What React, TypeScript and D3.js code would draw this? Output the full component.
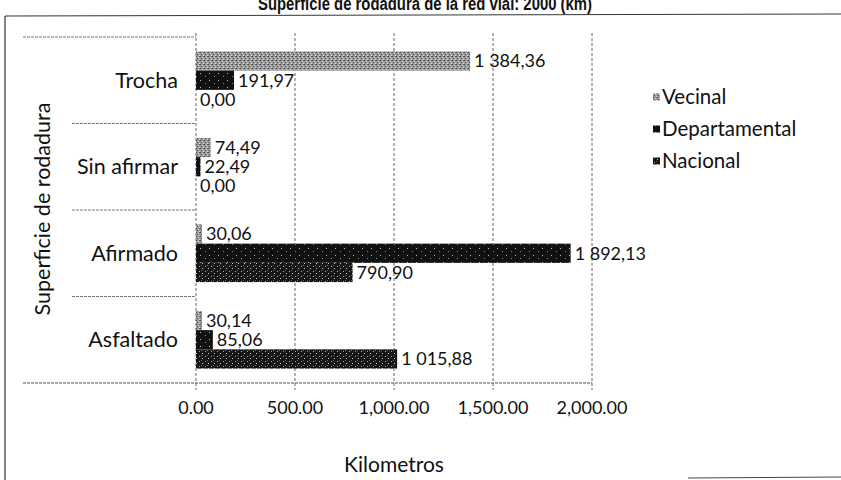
import React from "react";
import * as d3 from "d3";

const categories = ["Trocha", "Sin afirmar", "Afirmado", "Asfaltado"];
const seriesNames = ["Vecinal", "Departamental", "Nacional"];
const vecinal = [1384.36, 74.49, 30.06, 30.14];
const departamental = [191.97, 22.49, 1892.13, 85.06];
const nacional = [0.0, 0.0, 790.9, 1015.88];
const xTicks = [0, 500, 1000, 1500, 2000];
const seriesValues = [vecinal, departamental, nacional];
const fills = ["url(#pVec)", "url(#pDep)", "url(#pNac)"];

const W = 841;
const H = 480;
const FONT = "Lato, 'Open Sans', sans-serif";

function fmtLabel(v: number): string {
  const s = v.toFixed(2);
  const [i, d] = s.split(".");
  const withSep = i.replace(/\B(?=(\d{3})+(?!\d))/g, " ");
  return withSep + "," + d;
}

export default function App() {
  const x = d3.scaleLinear().domain([0, 2000]).range([196, 592]);
  const y = d3.scaleBand<string>().domain(categories).range([37, 383]).padding(0);
  const inner = d3
    .scaleBand<string>()
    .domain(seriesNames)
    .range([0, y.bandwidth()])
    .paddingInner(0)
    .paddingOuter(0.75);
  const tickFmt = d3.format(",.2f");

  return (
    <svg width={W} height={H} style={{ display: "block", position: "absolute", left: 0, top: 0 }}>
      <defs>
        <pattern id="pVec" width="4" height="4" patternUnits="userSpaceOnUse">
          <rect width="4" height="4" fill="#9a9a9a" />
          <rect x="0" y="0" width="1" height="1" fill="#444" />
          <rect x="2" y="1" width="1" height="1" fill="#d8d8d8" />
          <rect x="1" y="2" width="1" height="1" fill="#555" />
          <rect x="3" y="3" width="1" height="1" fill="#e0e0e0" />
          <rect x="3" y="0" width="1" height="1" fill="#666" />
        </pattern>
        <pattern id="pDep" width="9" height="7" patternUnits="userSpaceOnUse">
          <rect width="9" height="7" fill="#111" />
          <rect x="2" y="3" width="1" height="1" fill="#bbb" />
          <rect x="7" y="6" width="1" height="1" fill="#888" />
        </pattern>
        <pattern id="pNac" width="6" height="5" patternUnits="userSpaceOnUse">
          <rect width="6" height="5" fill="#161616" />
          <rect x="1" y="1" width="1" height="1" fill="#aaa" />
          <rect x="4" y="3" width="1" height="1" fill="#ccc" />
          <rect x="3" y="0" width="1" height="1" fill="#666" />
        </pattern>
      </defs>
      <rect width={W} height={H} fill="#fff" />

      {/* frame */}
      <line x1={5} y1={16} x2={W} y2={14} stroke="#333" strokeWidth={1} />
      <line x1={5} y1={16} x2={5} y2={H} stroke="#333" strokeWidth={1.2} />
      <line x1={688} y1={478} x2={W} y2={477} stroke="#444" strokeWidth={1} />

      {/* title (cut off at top) */}
      <text
        x={425}
        y={10}
        textAnchor="middle"
        fontFamily="'Liberation Sans', Arial, sans-serif"
        fontWeight="bold"
        fontSize={18}
        textLength={334}
        lengthAdjust="spacingAndGlyphs"
        fill="#111"
      >
        Superficie de rodadura de la red vial: 2000 (km)
      </text>

      {/* vertical gridlines */}
      {xTicks.map((t) => (
        <line key={"g" + t} x1={x(t)} x2={x(t)} y1={33} y2={390} stroke="#666" strokeWidth={1} strokeDasharray="3,2" />
      ))}

      {/* category separators */}
      <line x1={23} x2={196} y1={37} y2={37} stroke="#777" strokeDasharray="3,1" />
      {categories.slice(1).map((c) => (
        <line key={"s" + c} x1={72} x2={196} y1={y(c)!} y2={y(c)!} stroke="#777" strokeDasharray="3,1" />
      ))}
      <line x1={23} x2={592} y1={383} y2={383} stroke="#555" strokeDasharray="3,1" />

      {/* bars */}
      {categories.map((c, ci) =>
        seriesNames.map((s, si) => {
          const v = seriesValues[si][ci];
          const by = y(c)! + inner(s)!;
          return (
            <g key={c + s}>
              <rect x={x(0)} y={by} width={x(v) - x(0)} height={inner.bandwidth()} fill={fills[si]} />
              <text
                x={x(v) + 4}
                y={by + inner.bandwidth() / 2}
                dy="0.35em"
                fontFamily={FONT}
                fontSize={18}
                fill="#111"
              >
                {fmtLabel(v)}
              </text>
            </g>
          );
        })
      )}

      {/* category labels */}
      {categories.map((c) => (
        <text key={"c" + c} x={178} y={y(c)! + y.bandwidth() / 2} dy="0.35em" textAnchor="end" fontFamily={FONT} fontSize={21.5} fill="#111">
          {c}
        </text>
      ))}

      {/* x tick labels */}
      {xTicks.map((t) => (
        <text key={"t" + t} x={x(t)} y={408} dy="0.35em" textAnchor="middle" fontFamily={FONT} fontSize={18} fill="#111">
          {tickFmt(t)}
        </text>
      ))}

      {/* axis titles */}
      <text x={394} y={465} dy="0.35em" textAnchor="middle" fontFamily={FONT} fontSize={21} fill="#111">
        Kilometros
      </text>
      <text transform={`translate(42,209) rotate(-90)`} textAnchor="middle" dy="0.35em" fontFamily={FONT} fontSize={21.5} fill="#111">
        Superficie de rodadura
      </text>

      {/* legend */}
      {seriesNames.map((s, i) => (
        <g key={"l" + s} transform={`translate(653, ${97 + i * 32})`}>
          <rect x={0} y={-3.5} width={7} height={7} fill={fills[i]} />
          <text x={9} y={0} dy="0.35em" fontFamily={FONT} fontSize={20.5} fill="#111">
            {s}
          </text>
        </g>
      ))}
    </svg>
  );
}
